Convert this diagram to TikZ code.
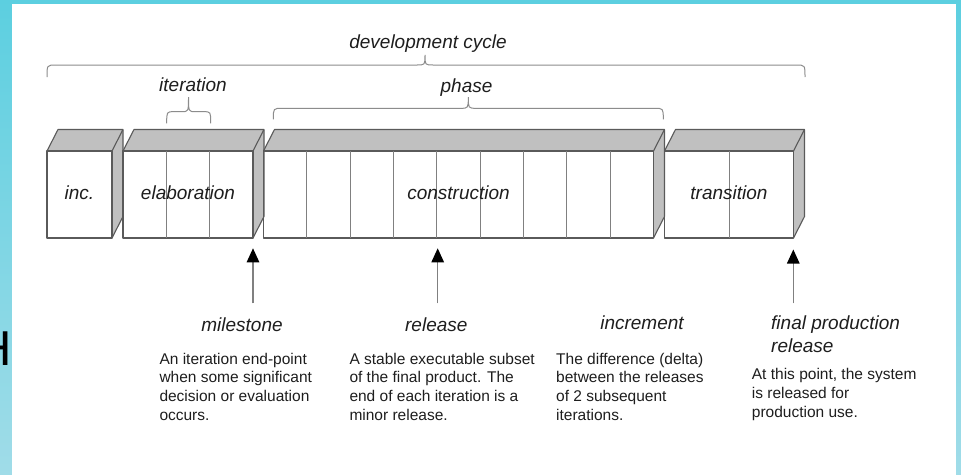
\documentclass[tikz,border=0pt]{standalone}
\usepackage{fontspec}
\setmainfont{Liberation Sans}
\usetikzlibrary{arrows.meta}
\definecolor{bgtop}{HTML}{5CCFE0}
\definecolor{bgbot}{HTML}{A0DCE8}
\definecolor{boxfillc}{HTML}{C0C0C0}
\definecolor{boxedgec}{HTML}{5A5A5A}
\definecolor{divc}{HTML}{808080}
\definecolor{bracec}{HTML}{8C8C8C}
\definecolor{txtc}{HTML}{1E1E1E}
\tikzset{
  edgeline/.style={draw=boxedgec, line width=1.1pt, line join=round},
  divline/.style={draw=divc, line width=1pt},
  bracel/.style={draw=bracec, line width=1pt},
  lab/.style={font=\fontsize{19}{23}\selectfont\itshape, text=txtc, inner sep=0pt},
  desc/.style={font=\fontsize{15.5}{18.8}\selectfont, text=txtc, inner sep=0pt, align=left, anchor=north west},
  arr/.style={draw=divc, line width=1.2pt, -{Triangle[length=14pt,width=12.5pt,black]}}
}
\newcommand\cubebox[2]{%
  \fill[boxfillc] (#1,151) -- ({#1+11},129.5) -- ({#2+11},129.5) -- ({#2+11},216.5) -- (#2,238) -- (#2,151) -- cycle;
  \draw[edgeline] (#1,151) rectangle (#2,238);
  \draw[edgeline] (#1,151) -- ({#1+11},129.5) -- ({#2+11},129.5) -- (#2,151);
  \draw[edgeline] ({#2+11},129.5) -- ({#2+11},216.5) -- (#2,238);}
% x1 x2 xm yend yline ytip rend rtip
\newcommand\curlybr[8]{%
  \draw[bracel] (#1,#4) .. controls (#1,#5) .. ({#1+#7},#5) -- ({#3-#8},#5)
    .. controls (#3,#5) .. (#3,#6) .. controls (#3,#5) .. ({#3+#8},#5)
    -- ({#2-#7},#5) .. controls (#2,#5) .. (#2,#4);}
\begin{document}
\begin{tikzpicture}[x=1pt,y=-1pt]
\useasboundingbox (0,0) rectangle (961,474);
\shade[top color=bgtop, bottom color=bgbot] (0,0) rectangle (961,474);
\fill[white] (12,4) rectangle (955.5,476);
\begin{scope}
  \clip (0,0) rectangle (12,474);
  \node[font=\fontsize{49}{49}\selectfont, text=black, anchor=base east, inner sep=0pt] (hch) at (12.4,365) {H};
\end{scope}

% boxes
\cubebox{47}{112}
\cubebox{123}{253}
\cubebox{263.5}{653.5}
\cubebox{664.5}{793.5}
% dividers
\foreach \xx in {166.3,209.7} \draw[divline] (\xx,151) -- (\xx,238);
\foreach \xx in {306.8,350.2,393.5,436.8,480.2,523.5,566.8,610.2} \draw[divline] (\xx,151) -- (\xx,238);
\draw[divline] (729,151) -- (729,238);

% box labels
\node[lab, anchor=base] (inc) at (79.5,199) {inc.};
\node[lab, anchor=base] (elab) at (188,199) {elaboration};
\node[lab, anchor=base] (cons) at (458.5,199) {construction};
\node[lab, anchor=base] (trans) at (729,199) {transition};

% braces
\curlybr{47}{805}{425}{77}{65}{55}{9}{8}
\curlybr{166.7}{210.7}{188.5}{123.3}{111.7}{97}{7}{7}
\curlybr{273.3}{663.3}{468.3}{119.3}{108.3}{97}{9}{8}
\node[lab, anchor=base] (dev) at (428,48.5) {development cycle};
\node[lab, anchor=base] (itl) at (193,91.5) {iteration};
\node[lab, anchor=base] (phl) at (466.5,92) {phase};

% arrows
\coordinate (m1) at (253,303.3); \coordinate (m2) at (253,248.3);
\coordinate (r1) at (437.7,303.3); \coordinate (r2) at (437.7,248.3);
\coordinate (f1) at (793.3,303.3); \coordinate (f2) at (793.3,249.5);
\draw[arr] (m1) -- (m2);
\draw[arr] (r1) -- (r2);
\draw[arr] (f1) -- (f2);

% labels
\node[lab, anchor=base] (mst) at (242,331.5) {milestone};
\node[lab, anchor=base] (rel) at (436.3,331.5) {release};
\node[lab, anchor=base] (incr) at (642,329.3) {increment};
\node[lab, align=left, anchor=north west] (fpr) at (771,315.5) {final production\\release};

% descriptions
\node[desc] (dm) at (159.3,352.7) {An iteration end-point\\when some significant\\decision or evaluation\\occurs.};
\node[desc] (dr) at (349.3,352.7) {A stable executable subset\\of the final product. The\\end of each iteration is a\\minor release.};
\node[desc] (di) at (556,352.7) {The difference (delta)\\between the releases\\of 2 subsequent\\iterations.};
\node[desc] (df) at (751.7,368.2) {At this point, the system\\is released for\\production use.};
\end{tikzpicture}
\end{document}
